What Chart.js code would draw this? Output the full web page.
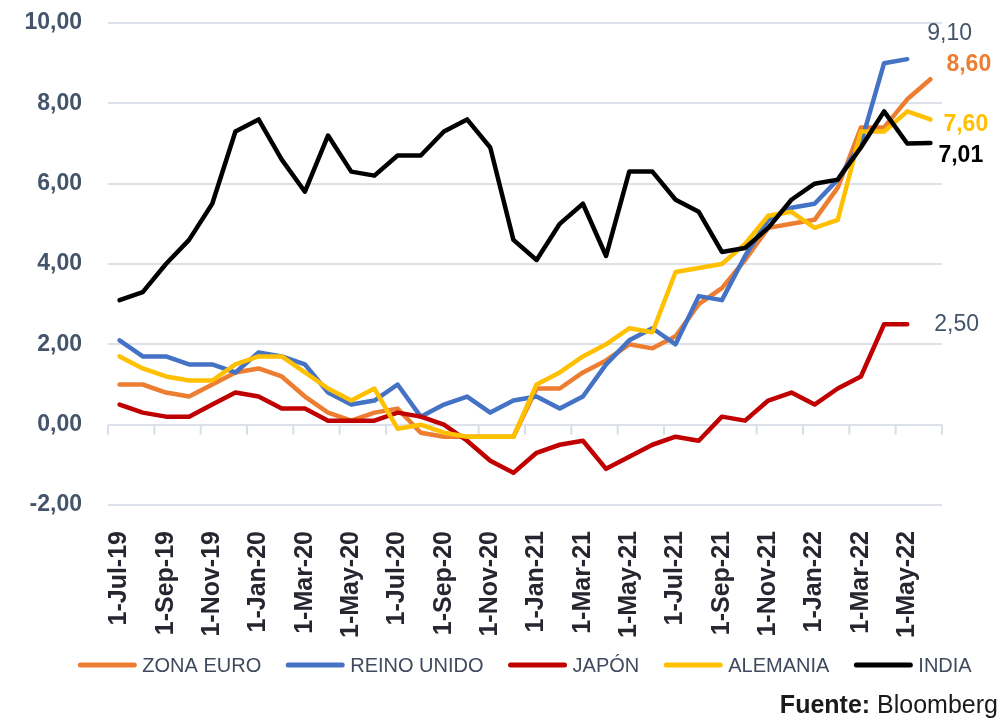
<!DOCTYPE html>
<html>
<head>
<meta charset="utf-8">
<script src="https://cdn.jsdelivr.net/npm/chart.js@4.4.0/dist/chart.umd.min.js"></script>
<style>
  html, body { margin: 0; padding: 0; background: #fff; }
  #wrap { position: relative; width: 1004px; height: 721px; overflow: hidden; }
  #fuente {
    position: absolute; right: 6px; top: 690px;
    font: 25px "Liberation Sans", Arial, sans-serif; color: #1a1a1a;
  }
</style>
</head>
<body>
<div id="wrap">
  <canvas id="chart" width="1004" height="721"></canvas>
  <div id="fuente"><b>Fuente:</b> Bloomberg</div>
</div>
<script>
// months, Jul-19 .. Jun-22
const labels = [
  '1-Jul-19', '1-Aug-19', '1-Sep-19', '1-Oct-19', '1-Nov-19', '1-Dec-19',
  '1-Jan-20', '1-Feb-20', '1-Mar-20', '1-Apr-20', '1-May-20', '1-Jun-20',
  '1-Jul-20', '1-Aug-20', '1-Sep-20', '1-Oct-20', '1-Nov-20', '1-Dec-20',
  '1-Jan-21', '1-Feb-21', '1-Mar-21', '1-Apr-21', '1-May-21', '1-Jun-21',
  '1-Jul-21', '1-Aug-21', '1-Sep-21', '1-Oct-21', '1-Nov-21', '1-Dec-21',
  '1-Jan-22', '1-Feb-22', '1-Mar-22', '1-Apr-22', '1-May-22', '1-Jun-22'
];

const zonaEuro = [1.0, 1.0, 0.8, 0.7, 1.0, 1.3, 1.4, 1.2, 0.7, 0.3, 0.1, 0.3,
  0.4, -0.2, -0.3, -0.3, -0.3, -0.3, 0.9, 0.9, 1.3, 1.6, 2.0, 1.9,
  2.2, 3.0, 3.4, 4.1, 4.9, 5.0, 5.1, 5.9, 7.4, 7.4, 8.1, 8.6];

const reinoUnido = [2.1, 1.7, 1.7, 1.5, 1.5, 1.3, 1.8, 1.7, 1.5, 0.8, 0.5, 0.6,
  1.0, 0.2, 0.5, 0.7, 0.3, 0.6, 0.7, 0.4, 0.7, 1.5, 2.1, 2.4,
  2.0, 3.2, 3.1, 4.2, 5.1, 5.4, 5.5, 6.1, 7.0, 9.0, 9.1, null];

const japon = [0.5, 0.3, 0.2, 0.2, 0.5, 0.8, 0.7, 0.4, 0.4, 0.1, 0.1, 0.1,
  0.3, 0.2, 0.0, -0.4, -0.9, -1.2, -0.7, -0.5, -0.4, -1.1, -0.8, -0.5,
  -0.3, -0.4, 0.2, 0.1, 0.6, 0.8, 0.5, 0.9, 1.2, 2.5, 2.5, null];

const alemania = [1.7, 1.4, 1.2, 1.1, 1.1, 1.5, 1.7, 1.7, 1.3, 0.9, 0.6, 0.9,
  -0.1, 0.0, -0.2, -0.3, -0.3, -0.3, 1.0, 1.3, 1.7, 2.0, 2.4, 2.3,
  3.8, 3.9, 4.0, 4.5, 5.2, 5.3, 4.9, 5.1, 7.3, 7.3, 7.8, 7.6];

const india = [3.1, 3.3, 4.0, 4.6, 5.5, 7.3, 7.6, 6.6, 5.8, 7.2, 6.3, 6.2,
  6.7, 6.7, 7.3, 7.6, 6.9, 4.6, 4.1, 5.0, 5.5, 4.2, 6.3, 6.3,
  5.6, 5.3, 4.3, 4.4, 4.9, 5.6, 6.0, 6.1, 6.9, 7.8, 7.0, 7.01];

const yMin = -2, yMax = 10, yStep = 2;

const FONT = '"Liberation Sans", Arial, sans-serif';
const fmt = v => v.toFixed(2).replace('.', ',');

// label at the end of each line
const endLabelStyle = {
  'ZONA EURO':   { color: '#ED7D31', bold: true,  dx: 16, dy: -15 },
  'REINO UNIDO': { color: '#44546A', bold: false, dx: 20, dy: -25 },
  'JAPÓN':       { color: '#44546A', bold: false, dx: 27, dy: 0 },
  'ALEMANIA':    { color: '#FFC000', bold: true,  dx: 13, dy: 5 },
  'INDIA':       { color: '#000000', bold: true,  dx: 8,  dy: 13 }
};

const endLabels = {
  id: 'endLabels',
  afterDatasetsDraw(chart) {
    const ctx = chart.ctx;
    ctx.save();
    ctx.textAlign = 'left';
    ctx.textBaseline = 'middle';
    chart.data.datasets.forEach((ds, i) => {
      const st = endLabelStyle[ds.label];
      let last = ds.data.length - 1;
      while (last >= 0 && ds.data[last] == null) last--;
      const pt = chart.getDatasetMeta(i).data[last];
      ctx.font = (st.bold ? 'bold ' : '') + '23px ' + FONT;
      ctx.fillStyle = st.color;
      ctx.fillText(fmt(ds.data[last]), pt.x + st.dx, pt.y + st.dy);
    });
    ctx.restore();
  }
};

// small tick marks on the zero line, every two months
const zeroTicks = {
  id: 'zeroTicks',
  beforeDatasetsDraw(chart) {
    const { ctx, scales: { x, y } } = chart;
    const y0 = y.getPixelForValue(0);
    ctx.save();
    ctx.strokeStyle = '#d9dee8';
    ctx.lineWidth = 2;
    for (let i = 0; i <= labels.length; i += 2) {
      const px = x.getPixelForValue(i - 0.5);
      ctx.beginPath();
      ctx.moveTo(px, y0);
      ctx.lineTo(px, y0 + 10);
      ctx.stroke();
    }
    ctx.restore();
  }
};

// legend drawn under the axis labels, centred on the plot area
const lineLegend = {
  id: 'lineLegend',
  afterDraw(chart) {
    const { ctx, chartArea } = chart;
    const lineW = 58, gap = 6, sep = 25;
    const yc = chartArea.bottom + 160;
    ctx.save();
    ctx.font = '20px ' + FONT;
    ctx.textBaseline = 'middle';
    const items = chart.data.datasets.map(ds => ({
      text: ds.label, color: ds.borderColor, w: ctx.measureText(ds.label).width
    }));
    const total = items.reduce((s, it) => s + lineW + gap + it.w, 0) + sep * (items.length - 1);
    let x = (chartArea.left + chartArea.right) / 2 - total / 2;
    items.forEach(it => {
      ctx.strokeStyle = it.color;
      ctx.lineWidth = 5;
      ctx.lineCap = 'round';
      ctx.beginPath();
      ctx.moveTo(x + 2, yc);
      ctx.lineTo(x + lineW - 2, yc);
      ctx.stroke();
      ctx.fillStyle = '#3f4a5e';
      ctx.fillText(it.text, x + lineW + gap, yc + 1);
      x += lineW + gap + it.w + sep;
    });
    ctx.restore();
  }
};

function series(label, data, color, order) {
  return {
    label: label,
    data: data,
    borderColor: color,
    backgroundColor: color,
    borderWidth: 4.5,
    pointRadius: 0,
    tension: 0,
    borderJoinStyle: 'round',
    borderCapStyle: 'round',
    order: order
  };
}

new Chart(document.getElementById('chart'), {
  type: 'line',
  data: {
    labels: labels,
    datasets: [
      series('ZONA EURO', zonaEuro, '#ED7D31', 5),
      series('REINO UNIDO', reinoUnido, '#4472C4', 4),
      series('JAPÓN', japon, '#C00000', 3),
      series('ALEMANIA', alemania, '#FFC000', 2),
      series('INDIA', india, '#000000', 1)
    ]
  },
  options: {
    responsive: false,
    animation: false,
    layout: { padding: { top: 23, right: 62, bottom: 76, left: 0 } },
    plugins: {
      legend: { display: false },
      tooltip: { enabled: false }
    },
    scales: {
      x: {
        offset: true,
        grid: { display: false },
        border: { display: false },
        afterFit: scale => { scale.height = 140; },
        ticks: {
          autoSkip: false,
          minRotation: 90,
          maxRotation: 90,
          padding: 18,
          color: '#262630',
          font: { family: FONT, size: 25, weight: 'bold' },
          callback: (v, i) => (i % 2 === 0 ? labels[i] : '')
        }
      },
      y: {
        min: yMin,
        max: yMax,
        afterFit: scale => { scale.width = 108; },
        // invisible tick marks give the gap between labels and plot
        grid: { color: '#dde2ea', lineWidth: 2, drawTicks: true, tickLength: 26, tickColor: 'rgba(0,0,0,0)' },
        border: { display: false },
        ticks: {
          stepSize: yStep,
          padding: 0,
          color: '#44546A',
          font: { family: FONT, size: 23, weight: 'bold' },
          callback: v => fmt(v)
        }
      }
    }
  },
  plugins: [zeroTicks, endLabels, lineLegend]
});
</script>
</body>
</html>
